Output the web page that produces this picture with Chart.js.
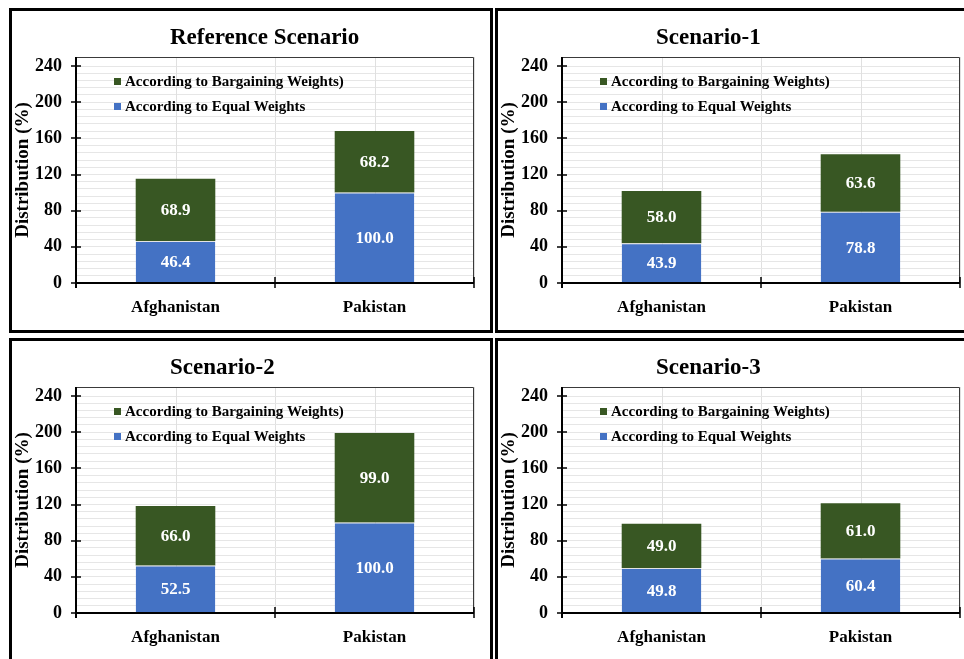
<!DOCTYPE html>
<html>
<head>
<meta charset="utf-8">
<script src="https://cdn.jsdelivr.net/npm/chart.js@4.4.1/dist/chart.umd.min.js"></script>
<style>
  html, body { margin: 0; padding: 0; background: #fff; width: 964px; height: 659px; overflow: hidden; }
  .panel { position: absolute; width: 484px; height: 325px; border: 3px solid #000; box-sizing: border-box; background: #fff; }
  .panel canvas { display: block; }
</style>
</head>
<body>
<div class="panel" style="left:9px; top:8px;"><canvas id="chart0" width="478" height="320"></canvas></div>
<div class="panel" style="left:495px; top:8px;"><canvas id="chart1" width="478" height="320"></canvas></div>
<div class="panel" style="left:9px; top:338px;"><canvas id="chart2" width="478" height="320"></canvas></div>
<div class="panel" style="left:495px; top:338px;"><canvas id="chart3" width="478" height="320"></canvas></div>
<script>
// Countries on the x axis
const categories = ['Afghanistan', 'Pakistan'];
// Series names (bottom segment first, top segment second)
const equalLabel = 'According to Equal Weights';
const bargainingLabel = 'According to Bargaining Weights)';
// Panel titles
const scenarioTitles = ['Reference Scenario', 'Scenario-1', 'Scenario-2', 'Scenario-3'];
// Distribution (%) according to equal weights
const refEqual = [46.4, 100.0];
const s1Equal  = [43.9, 78.8];
const s2Equal  = [52.5, 100.0];
const s3Equal  = [49.8, 60.4];
// Distribution (%) according to bargaining weights
const refBargaining = [68.9, 68.2];
const s1Bargaining  = [58.0, 63.6];
const s2Bargaining  = [66.0, 99.0];
const s3Bargaining  = [49.0, 61.0];
// Labelled y-axis ticks
const yTickLabels = [0, 40, 80, 120, 160, 200, 240];

const equalSeries = [refEqual, s1Equal, s2Equal, s3Equal];
const bargainingSeries = [refBargaining, s1Bargaining, s2Bargaining, s3Bargaining];

const SERIF = '"Liberation Serif", "Times New Roman", serif';
const BLUE = '#4472C4';
const GREEN = '#385723';

// Panel heading, left-aligned above the plot
const panelTitle = {
  id: 'panelTitle',
  afterDraw(chart, args, opts) {
    const ctx = chart.ctx;
    ctx.save();
    ctx.font = 'bold 23px ' + SERIF;
    ctx.fillStyle = '#000';
    ctx.textAlign = 'left';
    ctx.textBaseline = 'alphabetic';
    ctx.fillText(opts.text, 158, 33);
    ctx.restore();
  }
};

// Extra gridlines at category centres and the dark frame of the plot area
const plotFrame = {
  id: 'plotFrame',
  beforeDatasetsDraw(chart) {
    const { ctx, chartArea: a, scales: { x } } = chart;
    ctx.save();
    ctx.strokeStyle = '#e0e0e0';
    ctx.lineWidth = 1;
    categories.forEach((c, i) => {
      const px = Math.round(x.getPixelForValue(i)) + 0.5;
      ctx.beginPath();
      ctx.moveTo(px, a.top);
      ctx.lineTo(px, a.bottom);
      ctx.stroke();
    });
    ctx.strokeStyle = '#3a3a3a';
    ctx.beginPath();
    ctx.moveTo(a.left, a.top + 0.5);
    ctx.lineTo(a.right - 0.5, a.top + 0.5);
    ctx.lineTo(a.right - 0.5, a.bottom);
    ctx.stroke();
    ctx.restore();
  },
  afterDatasetsDraw(chart) {
    const { ctx, chartArea: a, scales: { x, y } } = chart;
    ctx.save();
    ctx.strokeStyle = '#000';
    // axis lines
    ctx.lineWidth = 2;
    ctx.beginPath();
    ctx.moveTo(a.left, a.top);
    ctx.lineTo(a.left, a.bottom + 5);
    ctx.moveTo(a.left - 1, a.bottom);
    ctx.lineTo(a.right, a.bottom);
    ctx.stroke();
    // cross tick marks on the value axis
    ctx.lineWidth = 1.5;
    yTickLabels.forEach(v => {
      const py = Math.round(y.getPixelForValue(v));
      ctx.beginPath();
      ctx.moveTo(a.left - 5, py);
      ctx.lineTo(a.left + 5, py);
      ctx.stroke();
    });
    // tick marks at category boundaries
    for (let i = 0; i <= categories.length; i++) {
      const px = Math.round(x.getPixelForTick(0) + (i - 0.5) * (x.getPixelForValue(1) - x.getPixelForValue(0)));
      ctx.beginPath();
      ctx.moveTo(px, a.bottom - 6);
      ctx.lineTo(px, a.bottom + 5);
      ctx.stroke();
    }
    ctx.restore();
  }
};

// Value written in the middle of each bar segment
const segmentLabels = {
  id: 'segmentLabels',
  afterDatasetsDraw(chart) {
    const ctx = chart.ctx;
    ctx.save();
    ctx.font = 'bold 17px ' + SERIF;
    ctx.fillStyle = '#fff';
    ctx.textAlign = 'center';
    ctx.textBaseline = 'middle';
    chart.data.datasets.forEach((ds, di) => {
      chart.getDatasetMeta(di).data.forEach((bar, i) => {
        const { x, y, base } = bar.getProps(['x', 'y', 'base'], true);
        ctx.fillText(ds.data[i].toFixed(1), x, (y + base) / 2 + 1);
      });
    });
    ctx.restore();
  }
};

// Legend inside the plot area, top series listed first
const innerLegend = {
  id: 'innerLegend',
  afterDraw(chart) {
    const { ctx, chartArea: a } = chart;
    const items = chart.data.datasets.slice().reverse();
    ctx.save();
    ctx.font = 'bold 15px ' + SERIF;
    ctx.textAlign = 'left';
    ctx.textBaseline = 'alphabetic';
    items.forEach((ds, k) => {
      const cy = a.top + 24 + k * 25;
      ctx.fillStyle = ds.backgroundColor;
      ctx.fillRect(a.left + 38, cy - 3, 7, 7);
      ctx.fillStyle = '#000';
      ctx.fillText(ds.label, a.left + 49, cy + 5);
    });
    ctx.restore();
  }
};

Chart.defaults.font.family = SERIF;

scenarioTitles.forEach((title, n) => {
  new Chart(document.getElementById('chart' + n), {
    type: 'bar',
    data: {
      labels: categories,
      datasets: [
        {
          label: equalLabel,
          data: equalSeries[n],
          backgroundColor: BLUE,
          borderColor: '#e4e4e4',
          borderWidth: { top: 1, left: 0, right: 0, bottom: 0 },
          borderSkipped: 'start',
          barPercentage: 0.4,
          categoryPercentage: 1.0
        },
        {
          label: bargainingLabel,
          data: bargainingSeries[n],
          backgroundColor: GREEN,
          borderWidth: 0,
          barPercentage: 0.4,
          categoryPercentage: 1.0
        }
      ]
    },
    options: {
      responsive: false,
      animation: false,
      events: [],
      layout: { padding: { left: 0, top: 46, right: 16, bottom: 0 } },
      plugins: {
        legend: { display: false },
        title: { display: false },
        tooltip: { enabled: false },
        panelTitle: { text: title }
      },
      scales: {
        x: {
          stacked: true,
          grid: { color: '#e0e0e0', lineWidth: 1, drawTicks: false, offset: true },
          border: { display: false },
          ticks: { color: '#000', padding: 14, font: { family: SERIF, size: 17, weight: 'bold' } },
          afterFit(s) { s.height = 48; }
        },
        y: {
          stacked: true,
          min: 0,
          max: 250,
          grid: { color: '#e6e6e6', lineWidth: 1, drawTicks: false },
          border: { display: false },
          ticks: {
            stepSize: 8,
            autoSkip: false,
            padding: 14,
            color: '#000',
            font: { family: SERIF, size: 18, weight: 'bold' },
            callback: v => (yTickLabels.includes(v) ? String(v) : '')
          },
          title: {
            display: true,
            text: 'Distribution (%)',
            color: '#000',
            padding: 0,
            font: { family: SERIF, size: 19, weight: 'bold' }
          },
          afterFit(s) { s.width = 64; }
        }
      }
    },
    plugins: [plotFrame, segmentLabels, innerLegend, panelTitle]
  });
});
</script>
</body>
</html>
